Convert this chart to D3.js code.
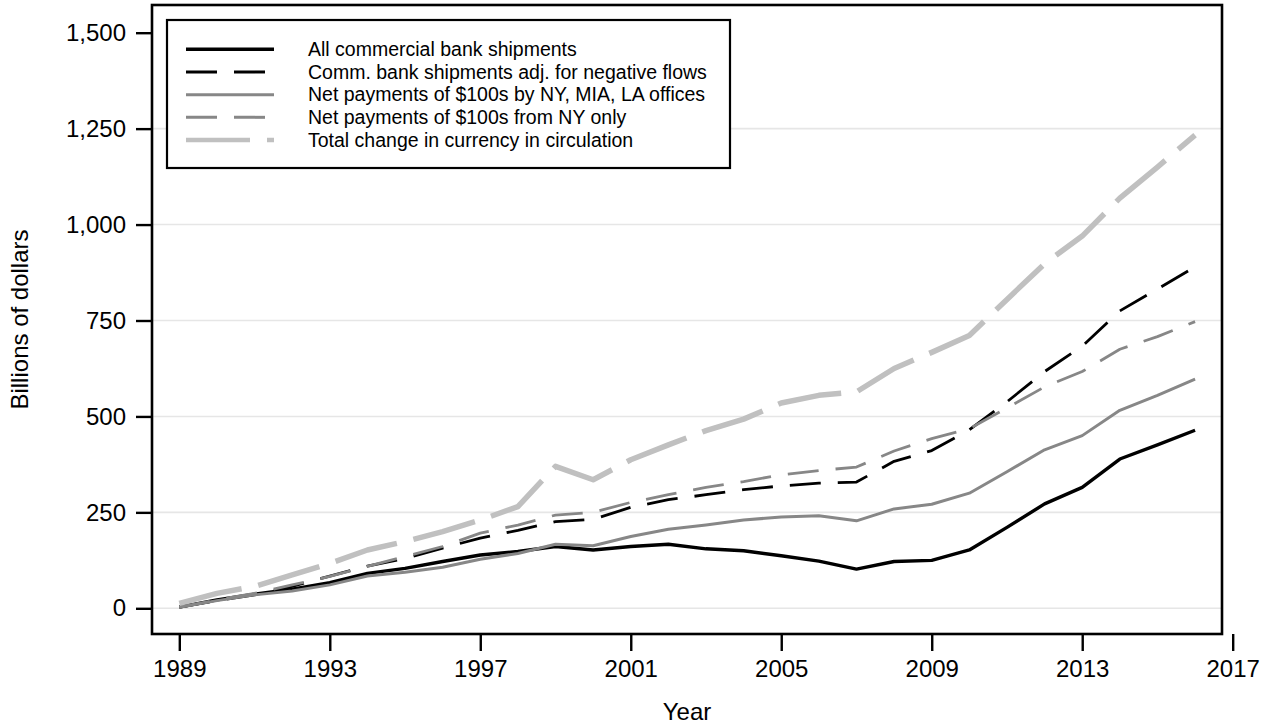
<!DOCTYPE html>
<html>
<head>
<meta charset="utf-8">
<script src="https://cdn.jsdelivr.net/npm/d3@7"></script>
<style>
  html, body { margin: 0; padding: 0; background: #fff; }
  svg { display: block; font-family: "Liberation Sans", Arial, Helvetica, sans-serif; }
</style>
</head>
<body>
<svg id="chart" width="1273" height="727"></svg>
<script>
// ---- data (billions of dollars, cumulative since 1989) ----
const years = [1989,1990,1991,1992,1993,1994,1995,1996,1997,1998,1999,2000,2001,2002,2003,2004,2005,2006,2007,2008,2009,2010,2011,2012,2013,2014,2015,2016];

const allCommercial = [3, 22, 37, 50, 67, 91, 104, 122, 139, 148, 161, 152, 161, 167, 155, 150, 137, 123, 102, 122, 125, 152, 211, 272, 315, 389, 426, 464];
const commAdjusted  = [3, 20, 35, 57, 84, 110, 130, 157, 183, 203, 226, 232, 263, 283, 296, 309, 319, 326, 329, 383, 411, 465, 538, 617, 683, 775, 832, 890];
const netNyMiaLa    = [3, 20, 35, 45, 61, 84, 94, 107, 128, 143, 167, 163, 187, 206, 217, 230, 238, 241, 228, 259, 271, 300, 356, 413, 450, 516, 555, 597];
const netNyOnly     = [3, 22, 39, 61, 83, 109, 135, 161, 196, 217, 243, 250, 276, 296, 315, 330, 348, 359, 368, 410, 442, 468, 522, 577, 617, 675, 708, 747];
const totalChange   = [13, 39, 57, 87, 117, 152, 174, 200, 230, 265, 370, 335, 387, 426, 463, 493, 535, 555, 564, 625, 667, 711, 805, 898, 970, 1069, 1150, 1233];

const seriesNames = [
  "All commercial bank shipments",
  "Comm. bank shipments adj. for negative flows",
  "Net payments of $100s by NY, MIA, LA offices",
  "Net payments of $100s from NY only",
  "Total change in currency in circulation"
];
const seriesValues = [allCommercial, commAdjusted, netNyMiaLa, netNyOnly, totalChange];

const xTicks = [1989, 1993, 1997, 2001, 2005, 2009, 2013, 2017];
const yTicks = [0, 250, 500, 750, 1000, 1250, 1500];
const gridTicks = [0, 250, 500, 750, 1000, 1250];

// ---- styles ----
const styles = [
  { color: "#000000", width: 3.4, dash: null,    legendWidth: 3.4 },
  { color: "#000000", width: 2.8, dash: "31,17", legendWidth: 3.0 },
  { color: "#878787", width: 3.0, dash: null,    legendWidth: 3.0 },
  { color: "#878787", width: 2.8, dash: "31,17", legendWidth: 3.0 },
  { color: "#c0c0c0", width: 5.5, dash: "64,17", legendWidth: 4.5 }
];

// ---- layout ----
const frame = { left: 152, top: 5, right: 1222, bottom: 634 };

const svg = d3.select("#chart");

const x = d3.scaleLinear().domain([1989, 2017]).range([179.3, 1232.7]);
const y = d3.scaleLinear().domain([0, 1500]).range([608.3, 32.7]);

// gridlines
svg.append("g")
  .selectAll("line")
  .data(gridTicks)
  .join("line")
  .attr("x1", frame.left)
  .attr("x2", frame.right)
  .attr("y1", d => y(d))
  .attr("y2", d => y(d))
  .attr("stroke", "#e6e6e6")
  .attr("stroke-width", 1.6);

// lines
const line = d3.line()
  .x((d, i) => x(years[i]))
  .y(d => y(d));

seriesValues.forEach((vals, k) => {
  const s = styles[k];
  svg.append("path")
    .datum(vals)
    .attr("d", line)
    .attr("fill", "none")
    .attr("stroke", s.color)
    .attr("stroke-width", s.width)
    .attr("stroke-dasharray", s.dash)
    .attr("stroke-linejoin", "round")
    .attr("stroke-linecap", "butt");
});

// frame
svg.append("rect")
  .attr("x", frame.left)
  .attr("y", frame.top)
  .attr("width", frame.right - frame.left)
  .attr("height", frame.bottom - frame.top)
  .attr("fill", "none")
  .attr("stroke", "#000")
  .attr("stroke-width", 2.6);

// y axis
const yAxis = d3.axisLeft(y)
  .tickValues(yTicks)
  .tickFormat(d3.format(","))
  .tickSize(16)
  .tickPadding(10);
const gy = svg.append("g")
  .attr("transform", `translate(${frame.left},0)`)
  .call(yAxis);
gy.select(".domain").remove();
gy.selectAll(".tick line").attr("stroke", "#000").attr("stroke-width", 2.4);
gy.selectAll(".tick text")
  .attr("fill", "#000")
  .style("font-size", "24px")
  .style("font-family", "'Liberation Sans', Arial, sans-serif");

// x axis
const xAxis = d3.axisBottom(x)
  .tickValues(xTicks)
  .tickFormat(d3.format("d"))
  .tickSize(17)
  .tickPadding(9);
const gx = svg.append("g")
  .attr("transform", `translate(0,${frame.bottom})`)
  .call(xAxis);
gx.select(".domain").remove();
gx.selectAll(".tick line").attr("stroke", "#000").attr("stroke-width", 2.4);
gx.selectAll(".tick text")
  .attr("fill", "#000")
  .style("font-size", "24px")
  .style("font-family", "'Liberation Sans', Arial, sans-serif");

// axis titles
svg.append("text")
  .attr("x", (frame.left + frame.right) / 2)
  .attr("y", 720)
  .attr("text-anchor", "middle")
  .style("font-size", "24px")
  .text("Year");

svg.append("text")
  .attr("transform", `translate(28,${(frame.top + frame.bottom) / 2}) rotate(-90)`)
  .attr("text-anchor", "middle")
  .style("font-size", "24px")
  .text("Billions of dollars");

// legend
const legend = { left: 167, top: 20, right: 730, bottom: 168 };
svg.append("rect")
  .attr("x", legend.left)
  .attr("y", legend.top)
  .attr("width", legend.right - legend.left)
  .attr("height", legend.bottom - legend.top)
  .attr("fill", "#fff")
  .attr("stroke", "#000")
  .attr("stroke-width", 2.2);

const rowY = d3.scaleLinear().domain([0, 4]).range([49.3, 140]);
const lg = svg.append("g");
seriesNames.forEach((name, k) => {
  const s = styles[k];
  lg.append("line")
    .attr("x1", 186).attr("x2", 274)
    .attr("y1", rowY(k)).attr("y2", rowY(k))
    .attr("stroke", s.color)
    .attr("stroke-width", s.legendWidth)
    .attr("stroke-dasharray", s.dash);
  lg.append("text")
    .attr("x", 308)
    .attr("y", rowY(k))
    .attr("dy", "0.35em")
    .style("font-size", "19.5px")
    .text(name);
});
</script>
</body>
</html>
